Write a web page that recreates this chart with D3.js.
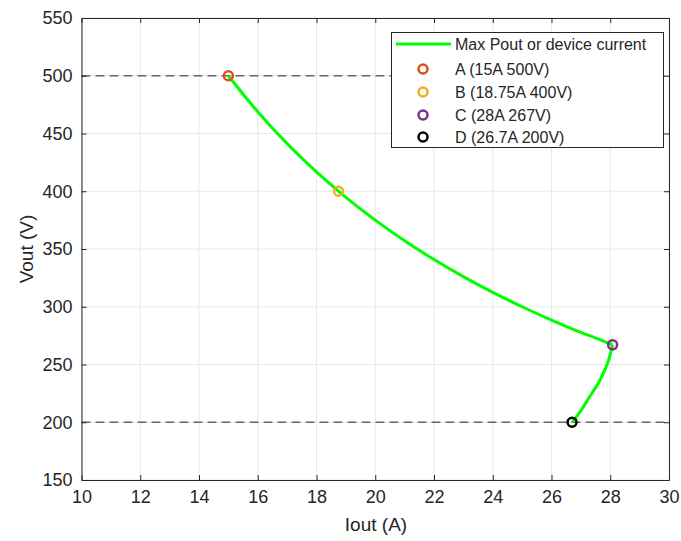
<!DOCTYPE html>
<html><head><meta charset="utf-8">
<script src="https://cdn.jsdelivr.net/npm/d3@7"></script>
<style>body{margin:0;background:#fff;} text{font-family:"Liberation Sans",Arial,sans-serif;}</style>
</head><body><svg id="c" width="681" height="541"></svg>
<script>
// Max Pout segment (A -> B -> C)
const powerI = [15, 16, 17, 18, 18.75, 19, 20, 21, 22, 23, 24, 25, 26, 27, 27.6, 28.08];
const powerV = [500, 468.8, 441.2, 416.7, 400, 394.7, 375, 357.1, 340.9, 326.1, 312.5, 300, 288.5, 277.8, 272, 267];
// device current segment (C -> D)
const currentI = [28.08, 27.97, 27.82, 27.64, 27.45, 27.27, 27.1, 26.93, 26.7];
const currentV = [267, 256, 245.5, 236, 228, 221, 214, 207.5, 200];
const pointNames = ["A (15A 500V)", "B (18.75A 400V)", "C (28A 267V)", "D (26.7A 200V)"];
const pointI = [15, 18.75, 28.08, 26.7];
const pointV = [500, 400, 267, 200];
const pointColors = ["#D95319", "#EDB120", "#7E2F8E", "#000000"];
const limitV = [500, 200];
const xTicks = [10, 12, 14, 16, 18, 20, 22, 24, 26, 28, 30];
const yTicks = [150, 200, 250, 300, 350, 400, 450, 500, 550];
const lineLabel = "Max Pout or device current";

const svg = d3.select("#c");
const L = 81.5, R = 669, T = 18, B = 480;
const x = d3.scaleLinear().domain([10, 30]).range([L, R]);
const y = d3.scaleLinear().domain([150, 550]).range([B, T]);

// grid
const g = svg.append("g");
g.selectAll(".gx").data(xTicks).join("line").attr("x1", d => x(d)).attr("x2", d => x(d)).attr("y1", T).attr("y2", B).attr("stroke", "#e8e8e8").attr("stroke-width", 1);
g.selectAll(".gy").data(yTicks).join("line").attr("y1", d => y(d)).attr("y2", d => y(d)).attr("x1", L).attr("x2", R).attr("stroke", "#e8e8e8").attr("stroke-width", 1);

// dashed limits
svg.selectAll(".lim").data(limitV).join("line").attr("x1", L).attr("x2", R).attr("y1", d => y(d)).attr("y2", d => y(d)).attr("stroke", "#666").attr("stroke-width", 1.5).attr("stroke-dasharray", "9,5");

// axes
const tickCol = "#262626";
const xb = svg.append("g").attr("transform", `translate(0,${B})`).call(d3.axisBottom(x).tickValues(xTicks).tickSizeInner(-5).tickSizeOuter(0).tickPadding(10));
const xt = svg.append("g").attr("transform", `translate(0,${T})`).call(d3.axisTop(x).tickValues(xTicks).tickSizeInner(-5).tickSizeOuter(0).tickFormat(""));
const yl = svg.append("g").attr("transform", `translate(${L},0)`).call(d3.axisLeft(y).tickValues(yTicks).tickSizeInner(-5).tickSizeOuter(0).tickPadding(9));
const yr = svg.append("g").attr("transform", `translate(${R},0)`).call(d3.axisRight(y).tickValues(yTicks).tickSizeInner(-5).tickSizeOuter(0).tickFormat(""));
[xb, xt, yl, yr].forEach(a => {
  a.select(".domain").attr("stroke", tickCol).attr("stroke-width", 1);
  a.selectAll(".tick line").attr("stroke", tickCol);
  a.selectAll("text").attr("font-size", 18).attr("fill", tickCol).attr("font-family", "Liberation Sans, Arial, sans-serif");
});

// curves
const line = d3.line().x(d => x(d[0])).y(d => y(d[1])).curve(d3.curveCatmullRom.alpha(0.5));
[[powerI, powerV], [currentI, currentV]].forEach(([I, V]) => {
  svg.append("path").datum(I.map((d, i) => [d, V[i]])).attr("d", line)
    .attr("fill", "none").attr("stroke", "#00FF00").attr("stroke-width", 3).attr("stroke-linejoin", "round");
});

// points
svg.selectAll(".pt").data(pointI).join("circle").attr("cx", d => x(d)).attr("cy", (d, i) => y(pointV[i])).attr("r", 4.5)
  .attr("fill", "none").attr("stroke", (d, i) => pointColors[i]).attr("stroke-width", 2.5);

// axis titles
svg.append("text").attr("x", 376).attr("y", 531).attr("text-anchor", "middle").attr("font-size", 19).attr("fill", tickCol).text("Iout (A)");
svg.append("text").attr("transform", `translate(33,${(T + B) / 2}) rotate(-90)`).attr("text-anchor", "middle").attr("font-size", 19).attr("fill", tickCol).text("Vout (V)");

// legend
const lg = svg.append("g");
lg.append("rect").attr("x", 391.5).attr("y", 32.5).attr("width", 272).attr("height", 115).attr("fill", "#fff").attr("stroke", tickCol).attr("stroke-width", 1);
lg.append("line").attr("x1", 396).attr("x2", 451).attr("y1", 44).attr("y2", 44).attr("stroke", "#00FF00").attr("stroke-width", 3);
lg.append("text").attr("x", 455).attr("y", 50).attr("font-size", 16).attr("fill", tickCol).text(lineLabel);
const rowsY = [69, 92, 115, 137];
pointNames.forEach((n, i) => {
  lg.append("circle").attr("cx", 423).attr("cy", rowsY[i]).attr("r", 4.5).attr("fill", "none").attr("stroke", pointColors[i]).attr("stroke-width", 2.5);
  lg.append("text").attr("x", 455).attr("y", rowsY[i] + 6).attr("font-size", 16).attr("fill", tickCol).text(n);
});
</script></body></html>
